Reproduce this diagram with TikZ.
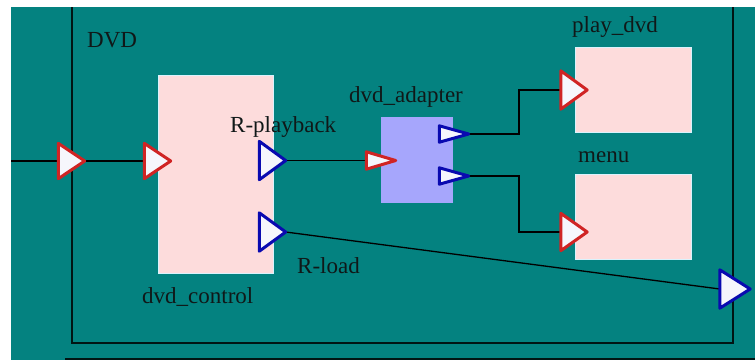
\documentclass[tikz,border=0pt]{standalone}
\usepackage{fontspec}
\setmainfont{Liberation Serif}
\definecolor{tealbg}{HTML}{048280}
\definecolor{pinkbox}{HTML}{FDDCDC}
\definecolor{lavbox}{HTML}{A6A6FC}
\definecolor{portred}{HTML}{D02424}
\definecolor{portblue}{HTML}{0A0AB0}
\definecolor{portfill}{HTML}{F6F6FC}
\definecolor{txt}{HTML}{101818}
\newcommand\porttri[2]{\draw[#2] (#1.north west) -- (#1.east) -- (#1.south west) -- cycle;}
\begin{document}
\begin{tikzpicture}[x=1pt,y=-1pt,
  pbox/.style={rectangle,inner sep=0pt,fill=pinkbox,draw=white!85!cyan,line width=0.6pt},
  abox/.style={rectangle,inner sep=0pt,fill=lavbox,draw=none},
  bigport/.style={rectangle,inner sep=0pt,draw=none,minimum width=26pt,minimum height=35pt},
  smallport/.style={rectangle,inner sep=0pt,draw=none,minimum width=29pt,minimum height=16pt},
  redtri/.style={draw=portred,fill=portfill,line width=3pt,line join=round},
  bluetri/.style={draw=portblue,fill=portfill,line width=3pt,line join=round},
  wire/.style={draw=black,line width=1.3pt},
  frame/.style={draw=black!85!tealbg,line width=1.5pt},
  lbl/.style={anchor=base west,inner sep=0pt,text=txt,font=\fontsize{23}{27}\selectfont}]
\useasboundingbox (0,0) rectangle (755,360);
\fill[white] (0,0) rectangle (755,360);
\fill[tealbg] (11,7) rectangle (755,360);
% frame
\coordinate (ftl) at (72,7);
\coordinate (fbl) at (72,343);
\coordinate (fbr) at (733,343);
\coordinate (ftr) at (733,7);
\draw[frame] (ftl) -- (fbl) -- (fbr) -- (ftr);
\coordinate (bl) at (65,359);
\coordinate (br) at (755,359);
\draw[frame] (bl) -- (br);
% boxes
\node[pbox,minimum width=115pt,minimum height=198pt] (ctrl) at (215.5,174) {};
\node[abox,minimum width=72pt,minimum height=86pt] (adapt) at (417,160) {};
\node[pbox,minimum width=116pt,minimum height=85pt] (play) at (633,89.5) {};
\node[pbox,minimum width=116pt,minimum height=85pt] (menu) at (633,216.5) {};
% ports
\node[bigport] (pin0) at (71.5,161) {};
\node[bigport] (pin1) at (157.5,161) {};
\node[bigport,minimum height=38pt] (prp) at (272.5,160.5) {};
\node[bigport,minimum height=38pt] (prl) at (272.5,232) {};
\node[smallport,minimum height=17pt] (padin) at (381,160.5) {};
\node[smallport] (pa1) at (454,134) {};
\node[smallport] (pa2) at (454,176) {};
\node[bigport,minimum height=38pt] (pplay) at (574,90) {};
\node[bigport,minimum height=37pt] (pmenu) at (574,232) {};
\node[bigport,minimum width=30pt,minimum height=38pt] (pout) at (735,289) {};
% wires
\coordinate (src) at (11,161);
\coordinate (jx) at (519,0);
\draw[wire] (src) -- (pin0.west);
\draw[wire] (pin0.east) -- (pin1.west);
\draw[wire] (prp.east) -- (padin.west);
\draw[wire] (pa1.east) -- (pa1.east -| jx) |- (pplay.west);
\draw[wire] (pa2.east) -- (pa2.east -| jx) |- (pmenu.west);
\draw[wire] (prl.east) -- (pout.west);
% triangles
\porttri{pin0}{redtri}
\porttri{pin1}{redtri}
\porttri{prp}{bluetri}
\porttri{prl}{bluetri}
\porttri{padin}{redtri}
\porttri{pa1}{bluetri}
\porttri{pa2}{bluetri}
\porttri{pplay}{redtri}
\porttri{pmenu}{redtri}
\porttri{pout}{bluetri}
% labels
\node[lbl] (tdvd) at (87,47) {DVD};
\node[lbl] (trp) at (230,132) {R-playback};
\node[lbl] (tad) at (349,102) {dvd\_adapter};
\node[lbl] (tplay) at (572,32) {play\_dvd};
\node[lbl] (tmenu) at (578,162) {menu};
\node[lbl] (trl) at (297,273) {R-load};
\node[lbl] (tctrl) at (142,303) {dvd\_control};
\end{tikzpicture}
\end{document}
